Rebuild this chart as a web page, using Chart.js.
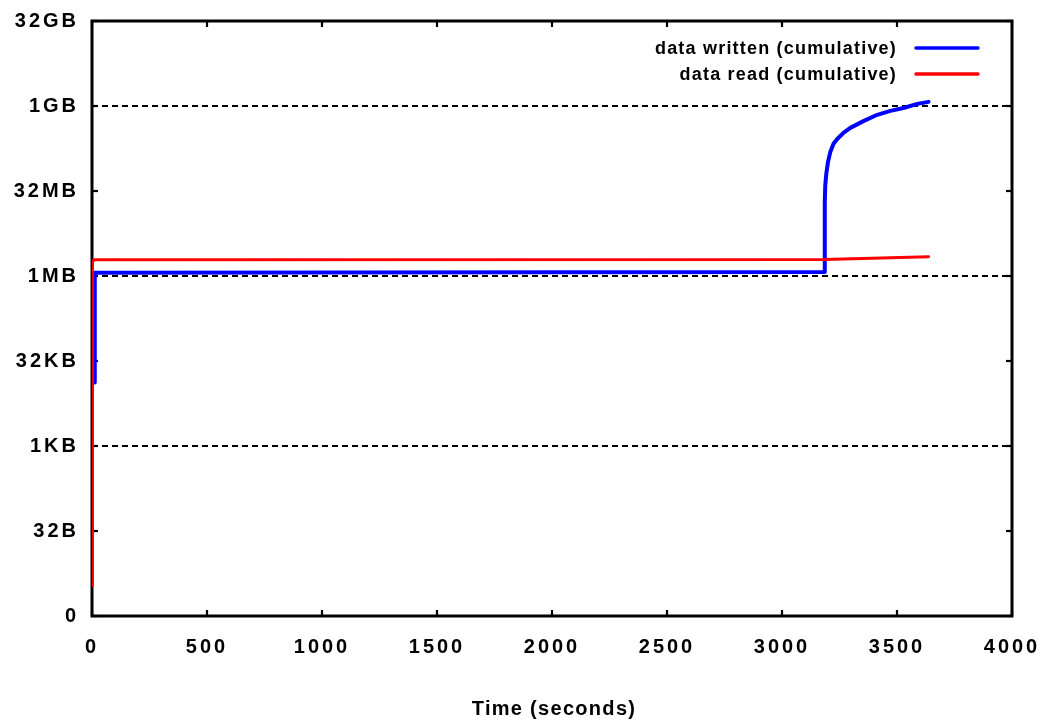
<!DOCTYPE html>
<html><head><meta charset="utf-8">
<script src="https://cdn.jsdelivr.net/npm/chart.js@4.4.0/dist/chart.umd.min.js"></script>
<style>html,body{margin:0;padding:0;background:#fff}#wrap{width:1043px;height:721px;position:relative}</style>
</head><body><div id="wrap"><canvas id="c"></canvas></div>
<script>
// ---- data ----
const xTickValues = [0, 500, 1000, 1500, 2000, 2500, 3000, 3500, 4000];
const yTickExps = [0, 5, 10, 15, 20, 25, 30, 35];
const yTickLabels = ['0', '32B', '1KB', '32KB', '1MB', '32MB', '1GB', '32GB'];
const gridExps = [10, 20, 30];
const xTitle = 'Time (seconds)';
const seriesLabels = ['data written (cumulative)', 'data read (cumulative)'];
const seriesColors = ['#0000ff', '#ff0000'];

const writtenTime  = [11, 12, 3184, 3186, 3188, 3193, 3200, 3210, 3224, 3240, 3267, 3297, 3354, 3414, 3471, 3528, 3589, 3637];
const writtenBytes = [13700, 1.2e6, 1.23e6, 2.1e7, 4.2e7, 7.0e7, 1.1e8, 1.65e8, 2.3e8, 2.8e8, 3.6e8, 4.4e8, 5.8e8, 7.5e8, 8.8e8, 9.9e8, 1.17e9, 1.27e9];
const readTime  = [0, 1, 3, 10, 25, 3184, 3637];
const readBytes = [3.5, 1.6e6, 1.9e6, 2.03e6, 2.04e6, 2.06e6, 2.31e6];

const FONT = '"Liberation Sans", Arial, sans-serif';

const toPts = (xs, ys) => xs.map((v, i) => ({x: v, y: ys[i]}));

const framePlugin = {
  id: 'frame',
  beforeDraw(chart) {
    chart.ctx.letterSpacing = '3px';
  },
  beforeDatasetsDraw(chart) {
    const {ctx, chartArea: a, scales: {x, y}} = chart;
    ctx.save();
    ctx.strokeStyle = '#000';
    ctx.lineWidth = 2;
    ctx.setLineDash([6, 4]);
    gridExps.forEach(e => {
      const py = y.getPixelForValue(Math.pow(2, e));
      ctx.beginPath(); ctx.moveTo(a.left, py); ctx.lineTo(a.right, py); ctx.stroke();
    });
    ctx.setLineDash([]);
    ctx.lineWidth = 2.2;
    const tl = 6;
    x.ticks.forEach(t => {
      const px = x.getPixelForValue(t.value);
      ctx.beginPath(); ctx.moveTo(px, a.bottom); ctx.lineTo(px, a.bottom - tl); ctx.stroke();
      ctx.beginPath(); ctx.moveTo(px, a.top); ctx.lineTo(px, a.top + tl); ctx.stroke();
    });
    y.ticks.forEach(t => {
      const py = y.getPixelForValue(t.value);
      ctx.beginPath(); ctx.moveTo(a.left, py); ctx.lineTo(a.left + tl, py); ctx.stroke();
      ctx.beginPath(); ctx.moveTo(a.right, py); ctx.lineTo(a.right - tl, py); ctx.stroke();
    });
    ctx.lineWidth = 3;
    ctx.strokeRect(a.left, a.top, a.right - a.left, a.bottom - a.top);
    ctx.restore();
  },
  afterDraw(chart) {
    const {ctx, chartArea: a} = chart;
    ctx.save();
    ctx.fillStyle = '#000';
    // axis title
    ctx.letterSpacing = '1.3px';
    ctx.font = 'bold 20px ' + FONT;
    ctx.textAlign = 'center';
    ctx.textBaseline = 'middle';
    ctx.fillText(xTitle, 554, 709);
    // legend
    ctx.letterSpacing = '1.2px';
    ctx.font = 'bold 18px ' + FONT;
    ctx.textAlign = 'right';
    const rows = [48, 74];
    chart.data.datasets.forEach((ds, i) => {
      const ry = rows[i];
      ctx.fillText(ds.label, 897, ry + 1);
      ctx.strokeStyle = ds.borderColor;
      ctx.lineWidth = 3.5;
      ctx.lineCap = 'round';
      ctx.beginPath(); ctx.moveTo(916, ry); ctx.lineTo(978, ry); ctx.stroke();
    });
    ctx.restore();
  }
};

new Chart(document.getElementById('c'), {
  type: 'line',
  data: {
    datasets: [
      {label: seriesLabels[0], data: toPts(writtenTime, writtenBytes), borderColor: seriesColors[0], borderWidth: 4, order: 1},
      {label: seriesLabels[1], data: toPts(readTime, readBytes), borderColor: seriesColors[1], borderWidth: 3, order: 0}
    ]
  },
  options: {
    responsive: true,
    maintainAspectRatio: false,
    animation: false,
    events: [],
    layout: {padding: {left: 0, right: 31, top: 21, bottom: 0}},
    elements: {point: {radius: 0}, line: {tension: 0, borderJoinStyle: 'round', borderCapStyle: 'round', fill: false}},
    plugins: {legend: {display: false}, tooltip: {enabled: false}},
    scales: {
      x: {
        type: 'linear', min: 0, max: 4000,
        afterBuildTicks: s => { s.ticks = xTickValues.map(v => ({value: v})); },
        afterFit: s => { s.height = 105; s.paddingLeft = 0; s.paddingRight = 0; },
        grid: {display: false},
        border: {display: false},
        ticks: {color: '#000', font: {family: FONT, size: 20, weight: 'bold'}, padding: 11, maxRotation: 0, autoSkip: false,
                callback: v => String(v)},
        title: {display: false}
      },
      y: {
        type: 'logarithmic', min: 1, max: Math.pow(2, 35),
        afterBuildTicks: s => { s.ticks = yTickExps.map(e => ({value: Math.pow(2, e)})); },
        afterFit: s => { s.width = 92; s.paddingTop = 0; s.paddingBottom = 0; },
        grid: {display: false},
        border: {display: false},
        ticks: {color: '#000', font: {family: FONT, size: 20, weight: 'bold'}, padding: 5, autoSkip: false,
                callback: (v, i) => yTickLabels[i]}
      }
    }
  },
  plugins: [framePlugin]
});
</script>
</body></html>
